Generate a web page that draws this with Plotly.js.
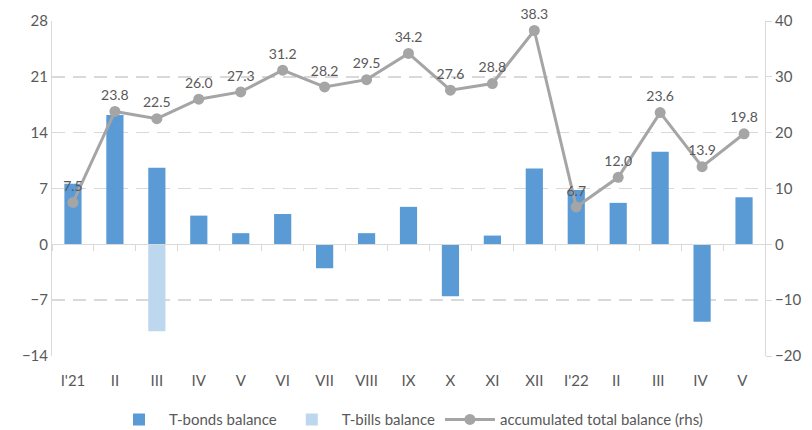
<!DOCTYPE html>
<html>
<head>
<meta charset="utf-8">
<script src="https://cdn.plot.ly/plotly-3.0.1.min.js"></script>
<style>
  html, body { margin: 0; padding: 0; background: #fff; }
  #chart { width: 812px; height: 430px; }
</style>
</head>
<body>
<div id="chart"></div>
<script>
// months on the category axis
var months = ["I'21", 'II', 'III', 'IV', 'V', 'VI', 'VII', 'VIII', 'IX', 'X', 'XI', 'XII', "I'22", 'II ', 'III ', 'IV ', 'V '];
// monthly balances (lhs)
var tbonds = [7.6, 16.2, 9.6, 3.6, 1.4, 3.8, -3.0, 1.4, 4.7, -6.5, 1.1, 9.5, 6.8, 5.2, 11.6, -9.7, 5.9];
var tbills = [0, 0, -10.9, 0, 0, 0, 0, 0, 0, 0, 0, 0, 0, 0, 0, 0, 0];
// accumulated total (rhs)
var accum = [7.5, 23.8, 22.5, 26.0, 27.3, 31.2, 28.2, 29.5, 34.2, 27.6, 28.8, 38.3, 6.7, 12.0, 23.6, 13.9, 19.8];

var grey = '#595959';
var CHART = document.getElementById('chart');

var data = [{
    x: months, y: tbonds, type: 'bar', name: 'T-bonds balance',
    marker: { color: '#5b9bd5' }
}, {
    // drawn on the second category axis, which also carries the ticks at zero
    x: months, y: tbills, xaxis: 'x2', type: 'bar', name: 'T-bills balance',
    marker: { color: '#bdd7ee' }
}, {
    x: months, y: accum, yaxis: 'y2', type: 'scatter', mode: 'lines+markers+text',
    name: 'accumulated total balance (rhs)',
    line: { color: '#a5a5a5', width: 3 },
    marker: { color: '#a5a5a5', size: 11 },
    text: accum.map(function (v) { return v.toFixed(1); }),
    textposition: 'top center',
    textfont: { size: 14, color: grey },
    cliponaxis: false
}];

var layout = {
    width: 812, height: 430,
    margin: { l: 52, r: 47, t: 21, b: 74, autoexpand: false },
    font: { family: 'Lato, "Open Sans", sans-serif', size: 15, color: grey },
    paper_bgcolor: '#fff', plot_bgcolor: '#fff',
    barmode: 'relative', bargap: 0.59,
    showlegend: true,
    hovermode: false,
    legend: {
        orientation: 'h', x: 0.5, xanchor: 'center', y: -0.19, yanchor: 'middle',
        font: { size: 15, color: grey }, traceorder: 'normal', itemwidth: 50
    },
    xaxis: {
        type: 'category', range: [-0.5, 16.5], showgrid: false, showline: false, zeroline: false,
        ticks: '', ticklabelstandoff: 14, tickfont: { size: 15, color: grey }
    },
    xaxis2: {
        type: 'category', overlaying: 'x', anchor: 'free', position: 1 / 3,
        range: [-0.5, 16.5], tickson: 'boundaries',
        ticks: 'outside', ticklen: 6, tickcolor: '#d9d9d9',
        showticklabels: false, showgrid: false, zeroline: false,
        showline: true, linecolor: '#d9d9d9', linewidth: 1
    },
    yaxis: {
        range: [-14, 28], dtick: 7, tick0: 0,
        showgrid: true, gridcolor: '#d9d9d9', griddash: '13px,8px', gridwidth: 1.5,
        zeroline: false, showline: true, linecolor: '#d9d9d9',
        ticks: '', tickfont: { size: 15, color: grey }
    },
    yaxis2: {
        overlaying: 'y', side: 'right', range: [-20, 40], dtick: 10,
        showgrid: false, zeroline: false, showline: true, linecolor: '#d9d9d9',
        ticks: 'outside', ticklen: 6, tickcolor: '#d9d9d9',
        tickfont: { size: 15, color: grey }
    }
};

Plotly.newPlot(CHART, data, layout, { staticPlot: true });
</script>
</body>
</html>
